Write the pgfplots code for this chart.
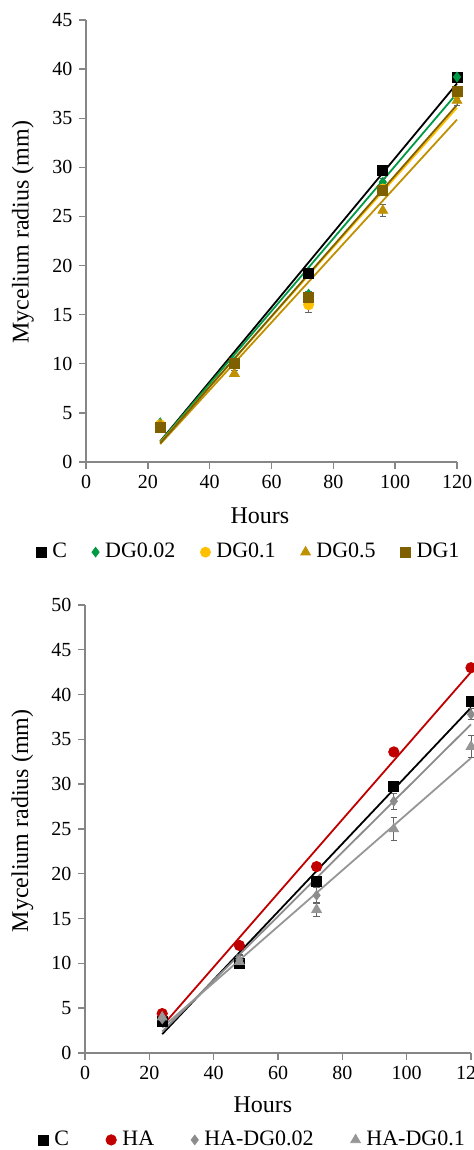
\documentclass[border=0pt]{standalone}
\usepackage{fontspec}
\setmainfont{Liberation Serif}
\usepackage{pgfplots}
\usepackage{pgfplotstable}
\pgfplotsset{compat=1.18}

\definecolor{cgreen}{RGB}{0,153,68}
\definecolor{cgold}{RGB}{255,192,0}
\definecolor{cdgold}{RGB}{191,144,0}
\definecolor{cbrown}{RGB}{127,96,0}
\definecolor{cred}{RGB}{192,0,0}
\definecolor{cgray}{RGB}{140,140,140}
\definecolor{cgray2}{RGB}{150,150,150}
\definecolor{axgray}{RGB}{134,134,134}
\definecolor{errgray}{RGB}{100,100,100}

% radius (mm) with error, top panel
\pgfplotstableread{
x   C    eC  D002 eD002 D01  eD01 D05  eD05 D1   eD1
24  3.5  0.2 4.0  0.2   3.8  0.3  3.8  0.3  3.5  0.2
48  10.0 0.3 10.2 0.3   10.0 0.3  9.0  0.3  10.0 0.4
72  19.2 0.4 17.1 0.3   16.0 0.8  16.5 0.5  16.8 0.4
96  29.7 0.3 28.5 0.4   27.8 0.5  25.6 0.6  27.7 0.5
120 39.2 0.5 39.2 0.4   37.5 0.5  36.8 0.5  37.7 0.4
}\topdata

% bottom panel
\pgfplotstableread{
x   C    eC  HA   eHA H002 eH002 H01  eH01
24  3.5  0.2 4.4  0.2 3.8  0.3   4.0  0.3
48  10.0 0.5 12.0 0.3 10.4 0.6   10.2 0.7
72  19.2 0.4 20.8 0.3 17.6 0.9   16.0 0.8
96  29.7 0.4 33.6 0.3 28.1 0.9   25.0 1.3
120 39.2 0.5 43.0 0.3 37.8 0.6   34.2 1.2
}\botdata

\pgfplotsset{
  growth/.style={
    scale only axis, clip=false,
    axis lines=left, axis line style={-, draw=axgray, line width=0.9pt},
    tick align=outside, major tick length=3.3pt,
    tick style={draw=axgray, line width=0.7pt},
    xmin=0, xmax=120, xtick={0,20,...,120}, ymin=0,
    ticklabel style={font=\fontsize{10}{12}\selectfont},
    /pgf/number format/assume math mode=true,
    label style={font=\fontsize{12}{14}\selectfont},
    xlabel={Hours}, ylabel={Mycelium radius (mm)},
    legend columns=-1,
    legend style={draw=none, fill=none, inner sep=0pt,
      font=\fontsize{11}{13}\selectfont, nodes={inner sep=0pt},
      /tikz/every odd column/.append style={column sep=3pt}},
    legend cell align=left,
  },
  pt/.style={only marks,
    legend image code/.code={\draw[##1] plot coordinates {(0pt,0pt)};}},
  eb/.style={error bars/.cd, y dir=both, y explicit,
    error bar style={line width=0.5pt, draw=errgray},
    error mark options={rotate=90, mark size=1.6pt, line width=0.5pt, draw=errgray}},
  fit/.style={no marks, line width=0.9pt, forget plot},
}

\begin{document}
\begin{tikzpicture}

\begin{axis}[growth, at={(43pt,344pt)}, anchor=south west,
  width=185.5pt, height=221pt, ymax=45, ytick={0,5,...,45},
  xlabel style={at={(axis description cs:0.469,-0.122)}, anchor=center},
  ylabel style={at={(axis description cs:-0.170,0.52)}, anchor=center},
  legend style={at={(axis description cs:-0.135,-0.204)}, anchor=west,
    /tikz/every even column/.append style={column sep=12.5pt}},
]
\addplot[fit, black]  table[x=x, y={create col/linear regression={y=C}}] {\topdata};
\addplot[fit, cgreen] table[x=x, y={create col/linear regression={y=D002}}] {\topdata};
\addplot[fit, cgold]  table[x=x, y={create col/linear regression={y=D01}}] {\topdata};
\addplot[fit, cdgold] table[x=x, y={create col/linear regression={y=D05}}] {\topdata};
\addplot[fit, cbrown] table[x=x, y={create col/linear regression={y=D1}}] {\topdata};

\addplot[pt, black, mark=square*, mark size=2.5pt, eb] table[x=x, y=C, y error=eC] {\topdata};
\addplot[pt, cgreen, mark=diamond*, mark size=2.4pt, eb] table[x=x, y=D002, y error=eD002] {\topdata};
\addplot[pt, cgold, mark=*, mark size=2.5pt, eb] table[x=x, y=D01, y error=eD01] {\topdata};
\addplot[pt, cdgold, mark=triangle*, mark size=2.8pt, eb] table[x=x, y=D05, y error=eD05] {\topdata};
\addplot[pt, cbrown, mark=square*, mark size=2.5pt, eb] table[x=x, y=D1, y error=eD1] {\topdata};
\legend{C, DG0.02, DG0.1, DG0.5, DG1}
\end{axis}

\begin{axis}[growth, at={(42.5pt,48.5pt)}, anchor=south west,
  width=193pt, height=224pt, ymax=50, ytick={0,5,...,50},
  xlabel style={at={(axis description cs:0.461,-0.116)}, anchor=center},
  ylabel style={at={(axis description cs:-0.162,0.518)}, anchor=center},
  legend style={at={(axis description cs:-0.122,-0.194)}, anchor=west,
    /tikz/every even column/.append style={column sep=18.5pt}},
]
\addplot[fit, black] table[x=x, y={create col/linear regression={y=C}}] {\botdata};
\addplot[fit, cred]  table[x=x, y={create col/linear regression={y=HA}}] {\botdata};
\addplot[fit, cgray] table[x=x, y={create col/linear regression={y=H002}}] {\botdata};
\addplot[fit, cgray2] table[x=x, y={create col/linear regression={y=H01}}] {\botdata};

\addplot[pt, black, mark=square*, mark size=2.5pt, eb] table[x=x, y=C, y error=eC] {\botdata};
\addplot[pt, cred, mark=*, mark size=2.6pt, eb] table[x=x, y=HA, y error=eHA] {\botdata};
\addplot[pt, cgray, mark=diamond*, mark size=2.4pt, eb] table[x=x, y=H002, y error=eH002] {\botdata};
\addplot[pt, cgray2, mark=triangle*, mark size=2.8pt, eb] table[x=x, y=H01, y error=eH01] {\botdata};
\legend{C, HA, HA-DG0.02, HA-DG0.1}
\end{axis}

\pgfresetboundingbox
\useasboundingbox (0,0) rectangle (236.5pt,575pt);
\end{tikzpicture}
\end{document}
